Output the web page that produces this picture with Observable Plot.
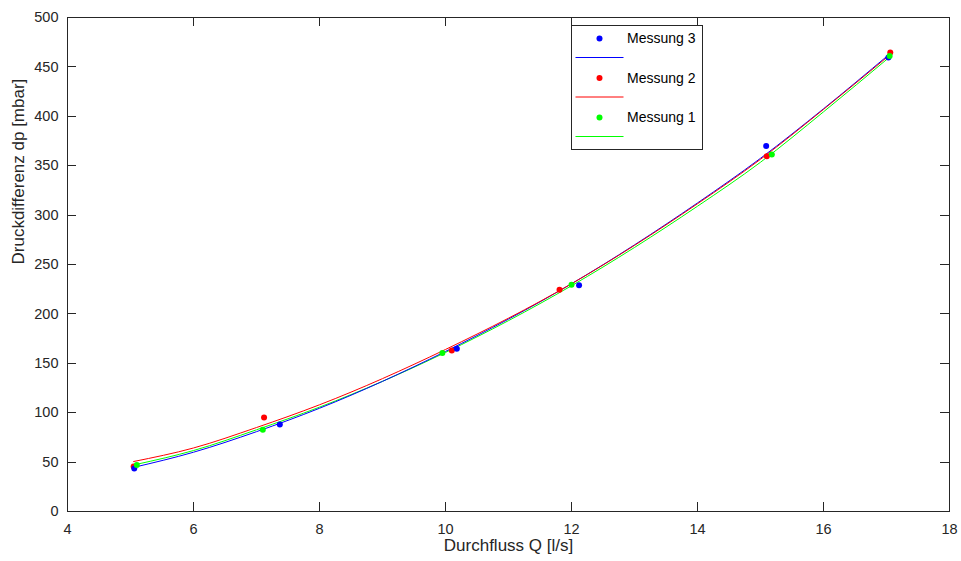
<!DOCTYPE html>
<html><head><meta charset="utf-8">
<script src="https://cdn.jsdelivr.net/npm/d3@7"></script>
<script src="https://cdn.jsdelivr.net/npm/@observablehq/plot@0.6"></script>
<style>
body{margin:0;background:#fff;}
#chart{position:relative;width:961px;height:561px;}
</style>
</head><body><div id="chart"></div>
<script>
// ---- data ----
const seriesNames = ["Messung 3", "Messung 2", "Messung 1"];
const seriesColors = ["#0000ff", "#ff0000", "#00ff00"];

// measured points
const m3Q  = [5.06, 7.37, 10.18, 12.12, 15.09, 17.03];
const m3dp = [43.5, 88.1, 164.8, 229, 370, 459.5];
const m2Q  = [5.05, 7.12, 10.1, 11.81, 15.1, 17.06];
const m2dp = [45.5, 95.2, 163, 224.4, 359.5, 464.5];
const m1Q  = [5.1, 7.1, 9.95, 12.0, 15.18, 17.05];
const m1dp = [47, 82.7, 160.3, 229.5, 361.3, 461];

// fitted curves
const fit3Q  = [5.06, 6, 7, 8, 10, 12, 14, 15, 16, 17.03];
const fit3dp = [44.8, 60, 80.8, 104.5, 162, 230.5, 312.3, 357.5, 407.6, 462];
const fit2Q  = [5.05, 6, 7, 8, 10, 12, 14, 15, 16, 17.06];
const fit2dp = [50.6, 64.3, 85, 108, 164, 230.5, 311.5, 356.5, 407, 462.5];
const fit1Q  = [5.1, 6, 7, 8, 10, 12, 14, 15, 16, 17.05];
const fit1dp = [47.8, 61.7, 82.7, 105.6, 161, 228.5, 309, 353.5, 404.5, 460];

const xTicks = [4, 6, 8, 10, 12, 14, 16, 18];
const yTicks = [0, 50, 100, 150, 200, 250, 300, 350, 400, 450, 500];
const xLabel = "Durchfluss Q [l/s]";
const yLabel = "Druckdifferenz dp [mbar]";

// ---- tables ----
const toRows = (qs, ds, name) => qs.map((q, i) => ({Q: q, dp: ds[i], series: name}));
const points = [
  toRows(m2Q, m2dp, seriesNames[1]),
  toRows(m3Q, m3dp, seriesNames[0]),
  toRows(m1Q, m1dp, seriesNames[2])
].flat();
const fits = [
  toRows(fit1Q, fit1dp, seriesNames[2]),
  toRows(fit3Q, fit3dp, seriesNames[0]),
  toRows(fit2Q, fit2dp, seriesNames[1])
];

const font = "'Liberation Sans', Arial, Helvetica, sans-serif";
const axisColor = "#262626";

const chart = Plot.plot({
  width: 961,
  height: 561,
  marginLeft: 67,
  marginRight: 12,
  marginTop: 17,
  marginBottom: 50,
  style: {fontFamily: font, background: "#fff", color: axisColor},
  x: {domain: [4, 18]},
  y: {domain: [0, 500]},
  color: {domain: seriesNames, range: seriesColors},
  marks: [
    Plot.axisX({ticks: xTicks, tickSize: 0, tickPadding: 12, label: null, fontSize: 14.5, fill: axisColor}),
    Plot.axisY({ticks: yTicks, tickSize: 0, tickPadding: 9, label: null, fontSize: 14.5, fill: axisColor}),
    ...fits.map(f => Plot.line(f, {x: "Q", y: "dp", stroke: "series", strokeWidth: 1, curve: "monotone-x"})),
    Plot.dot(points, {x: "Q", y: "dp", fill: "series", r: 3, stroke: null}),
    Plot.frame({stroke: axisColor, strokeWidth: 1}),
    Plot.text([xLabel], {text: d => d, frameAnchor: "bottom", dy: 39, fontSize: 17, fill: axisColor}),
    Plot.text([yLabel], {text: d => d, frameAnchor: "left", dx: -49, rotate: -90, fontSize: 17, fill: axisColor})
  ]
});

document.getElementById("chart").appendChild(chart);

// ---- inward ticks on all four sides (MATLAB box style) ----
const sx = chart.scale("x"), sy = chart.scale("y");
const svg = d3.select(chart);
const X0 = sx.apply(4), X1 = sx.apply(18), Y0 = sy.apply(0), Y1 = sy.apply(500);
const tl = 9;
const tg = svg.append("g").attr("stroke", axisColor).attr("stroke-width", 1);
xTicks.forEach(v => {
  const x = Math.round(sx.apply(v)) + 0.5;
  tg.append("line").attr("x1", x).attr("x2", x).attr("y1", Y0).attr("y2", Y0 - tl);
  tg.append("line").attr("x1", x).attr("x2", x).attr("y1", Y1).attr("y2", Y1 + tl);
});
yTicks.forEach(v => {
  const y = Math.round(sy.apply(v)) + 0.5;
  tg.append("line").attr("y1", y).attr("y2", y).attr("x1", X0).attr("x2", X0 + tl);
  tg.append("line").attr("y1", y).attr("y2", y).attr("x1", X1).attr("x2", X1 - tl);
});

// ---- legend box ----
const lg = svg.append("g").attr("font-family", font).attr("font-size", 14).attr("text-anchor", "start");
lg.append("rect").attr("x", 571.5).attr("y", 25.5).attr("width", 131).attr("height", 124)
  .attr("fill", "#fff").attr("stroke", axisColor).attr("stroke-width", 1);
seriesNames.forEach((name, i) => {
  const yMark = 38.5 + i * 39.5;
  const yLine = 57.5 + i * 39.5;
  lg.append("circle").attr("cx", 599.5).attr("cy", yMark).attr("r", 3).attr("fill", seriesColors[i]);
  lg.append("line").attr("x1", 575.5).attr("x2", 623.5).attr("y1", yLine).attr("y2", yLine)
    .attr("stroke", seriesColors[i]).attr("stroke-width", 1);
  lg.append("text").attr("x", 627).attr("y", yMark).attr("dy", "0.35em")
    .attr("text-anchor", "start").attr("fill", "#000").text(name);
});
</script>
</body></html>
